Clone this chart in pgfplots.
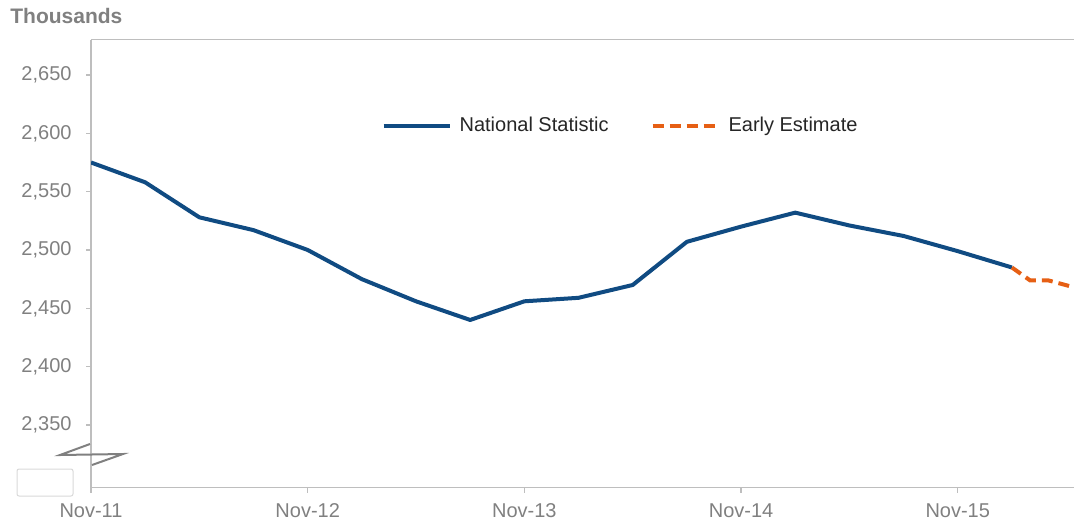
\documentclass[border=0pt]{standalone}
\usepackage{pgfplots}
\pgfplotsset{compat=1.18}
\usepackage{fontspec}
\setmainfont{Liberation Sans}
\definecolor{nsblue}{RGB}{16,75,130}
\definecolor{eeorange}{RGB}{230,95,20}
\definecolor{ticktxt}{RGB}{128,128,128}
\definecolor{axgray}{RGB}{190,190,190}
\begin{document}
\begin{tikzpicture}
\useasboundingbox (0pt,0pt) rectangle (537pt,260.5pt);
\node[anchor=base west, font=\fontsize{10.5}{12}\selectfont\bfseries, text=ticktxt, inner sep=0pt] at (5pt,248.5pt) {Thousands};
\begin{axis}[
  at={(45.5pt,16.75pt)}, anchor=south west,
  scale only axis, width=491.5pt, height=224pt,
  xmin=0, xmax=54.44, ymin=2296.4, ymax=2680.4,
  axis lines*=left,
  axis line style={axgray, line width=0.7pt},
  tick style={axgray, line width=0.7pt},
  tick align=outside,
  major tick length=2.5pt,
  xtick={0,12,24,36,48},
  xticklabels={Nov-11,Nov-12,Nov-13,Nov-14,Nov-15},
  ytick={2350,2400,2450,2500,2550,2600,2650},
  /pgf/number format/assume math mode=true,
  /pgf/number format/1000 sep={,},
  ticklabel style={font=\fontsize{10}{12}\selectfont, text=ticktxt},
  yticklabel style={xshift=-3.7pt},
  xticklabel style={yshift=-2pt},
  clip=true,
  legend columns=2,
  legend style={at={(0.5397,0.807)}, anchor=center, draw=none, fill=none,
    font=\fontsize{10}{12}\selectfont, text=black!85,
    /tikz/every odd column/.append style={column sep=2pt},
    /tikz/every even column/.append style={column sep=19pt}},
  legend image code/.code={\draw[#1] (0pt,0pt) -- (33pt,0pt);},
]
\addplot[nsblue, line width=2pt, line join=round] coordinates {
  (0,2575) (3,2558) (6,2528) (9,2517) (12,2500) (15,2475) (18,2456)
  (21,2440) (24,2456) (27,2459) (30,2470) (33,2507) (36,2520) (39,2532)
  (42,2521) (45,2512) (48,2499) (51,2485)
};
\addlegendentry{National Statistic}
\addplot[eeorange, line width=2pt, dash pattern=on 5.5pt off 3pt] coordinates {
  (51,2485) (52,2474) (53,2474) (54.44,2468)
};
\addlegendentry{Early Estimate}
\draw[axgray, line width=0.7pt] (rel axis cs:0,1) -- (rel axis cs:1,1);
\end{axis}
% axis break symbol
\draw[ticktxt, line width=1pt] (45pt,38.5pt) -- (30pt,33pt) -- (61.5pt,33.5pt) -- (46pt,28pt);
\draw[black!15, line width=0.5pt, rounded corners=1pt, fill=white] (8.5pt,12.5pt) rectangle (36.5pt,26pt);
\end{tikzpicture}
\end{document}
